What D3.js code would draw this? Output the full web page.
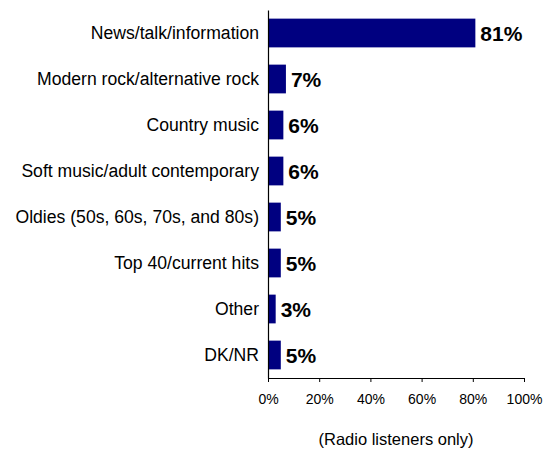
<!DOCTYPE html>
<html>
<head>
<meta charset="utf-8">
<script src="https://cdn.jsdelivr.net/npm/d3@7"></script>
<style>
  body { margin: 0; background: #fff; }
  svg { display: block; font-family: Arial, "Liberation Sans", sans-serif; }
</style>
</head>
<body>
<svg id="chart" width="543" height="449"></svg>
<script>
// Preferred radio formats (share of radio listeners)
const categories = [
  "News/talk/information",
  "Modern rock/alternative rock",
  "Country music",
  "Soft music/adult contemporary",
  "Oldies (50s, 60s, 70s, and 80s)",
  "Top 40/current hits",
  "Other",
  "DK/NR"
];
const values = [81, 7, 6, 6, 5, 5, 3, 5];
const tickValues = [0, 20, 40, 60, 80, 100];
const caption = "(Radio listeners only)";

const svg = d3.select("#chart");
const barColor = "#000080";

const x = d3.scaleLinear().domain([0, 100]).range([268, 524]);
const y = d3.scaleBand()
  .domain(categories)
  .range([10, 378])
  .paddingInner(0.375)
  .paddingOuter(0.1875);

const rows = categories.map((c, i) => ({ cat: c, val: values[i] }));

// Bars
svg.append("g")
  .selectAll("rect")
  .data(rows)
  .join("rect")
  .attr("x", x(0))
  .attr("y", d => y(d.cat))
  .attr("width", d => x(d.val) - x(0))
  .attr("height", y.bandwidth())
  .attr("fill", barColor);

// Value labels
svg.append("g")
  .selectAll("text")
  .data(rows)
  .join("text")
  .attr("x", d => x(d.val) + 5)
  .attr("y", d => y(d.cat) + y.bandwidth() / 2)
  .attr("dy", "0.36em")
  .attr("font-size", 21)
  .attr("font-weight", "bold")
  .attr("fill", "#000")
  .text(d => d.val + "%");

// Category axis
const yAxis = svg.append("g")
  .attr("transform", `translate(${x(0)},0)`)
  .call(d3.axisLeft(y).tickSize(0).tickPadding(9));
yAxis.select(".domain").attr("stroke", "#000").attr("stroke-width", 1.2);
yAxis.selectAll("text")
  .attr("font-size", 17.6)
  .attr("font-family", "Arial, 'Liberation Sans', sans-serif")
  .attr("fill", "#000");

// Percentage axis
const xAxis = svg.append("g")
  .attr("transform", `translate(0,${y.range()[1]})`)
  .call(d3.axisBottom(x)
    .tickValues(tickValues)
    .tickFormat(d => d + "%")
    .tickSizeInner(4)
    .tickSizeOuter(0)
    .tickPadding(12));
xAxis.select(".domain").attr("stroke", "#000");
xAxis.selectAll("line").attr("stroke", "#000");
xAxis.selectAll("text")
  .attr("font-size", 14)
  .attr("font-family", "Arial, 'Liberation Sans', sans-serif")
  .attr("fill", "#000");

// Caption under the axis
svg.append("text")
  .attr("x", 396)
  .attr("y", 445)
  .attr("text-anchor", "middle")
  .attr("font-size", 16.5)
  .attr("fill", "#000")
  .text(caption);
</script>
</body>
</html>
